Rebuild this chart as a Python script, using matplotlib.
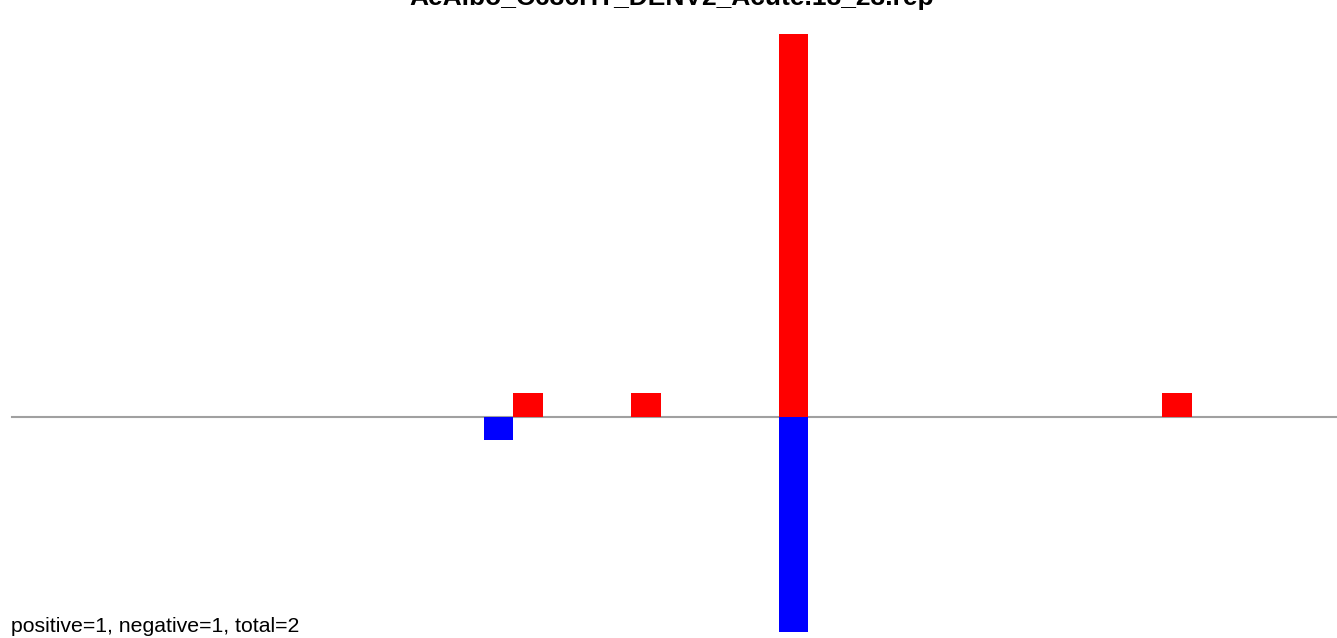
import matplotlib.pyplot as plt

title = 'AeAlbo_C636HT_DENV2_Acute.18_23.rep'
note = 'positive=1, negative=1, total=2'

# bin positions and counts
pos_x = [17, 21, 26, 39]
pos_y = [1, 1, 16, 1]
neg_x = [16, 26]
neg_y = [1, 9]
n_bins = 45

plt.rcParams['font.family'] = ['Liberation Sans', 'DejaVu Sans']

fig = plt.figure(figsize=(13.37, 6.38), dpi=100)
ax = fig.add_axes([0, 0, 1, 1])
ax.axis('off')

ax.bar(pos_x, pos_y, width=1, align='edge', color='red', linewidth=0)
ax.bar(neg_x, [-v for v in neg_y], width=1, align='edge', color='blue', linewidth=0)
ax.plot([0, n_bins], [0, 0], color='#a0a0a0', linewidth=1.5, zorder=0)

ax.set_xlim(-11.8 / 29.5, (1337 - 11.8) / 29.5)
ax.set_ylim(-(638 - 416.5) / 23.9, 416.5 / 23.9)

fig.text(672 / 1337, 1 - 5.5 / 638, title, ha='center', va='baseline',
         fontsize=19, fontweight='bold')
fig.text(11 / 1337, 6 / 638, note, ha='left', va='baseline', fontsize=15.3)

fig.savefig('out.png', dpi=100)
